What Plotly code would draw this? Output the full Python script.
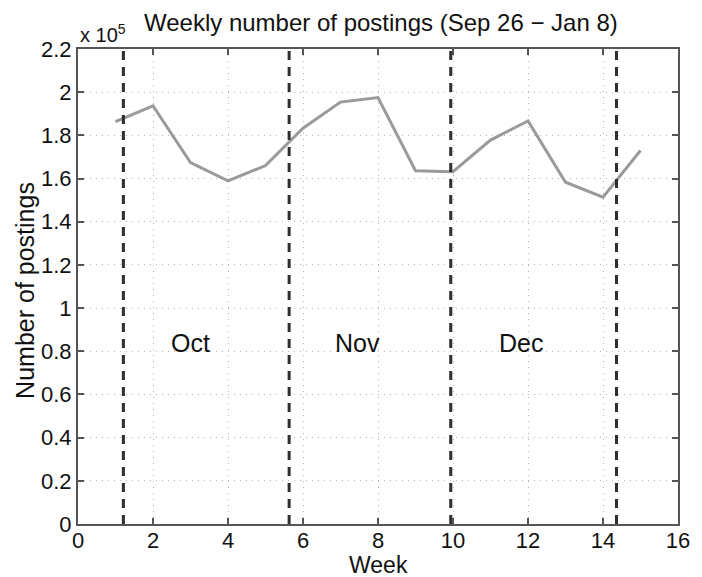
import plotly.graph_objects as go

weeks = list(range(1, 16))
postings = [186400, 193700, 167400, 158900, 166000, 183300, 195400, 197500,
            163600, 163200, 177800, 186700, 158300, 151400, 173000]
month_bounds = [1.21, 5.63, 9.94, 14.36]
month_labels = ["Oct", "Nov", "Dec"]
month_label_x = [3.0, 7.44, 11.8]
month_label_y = 84000
ytick_vals = [i * 20000 for i in range(12)]
ytick_text = ["0", "0.2", "0.4", "0.6", "0.8", "1", "1.2", "1.4", "1.6", "1.8", "2", "2.2"]
xtick_vals = list(range(0, 17, 2))

FONT = "Liberation Sans, Arial, Helvetica, sans-serif"
W, H = 702, 577
ml, mr, mt, mb = 78, 14, 49, 53

fig = go.Figure()
fig.add_trace(go.Scatter(x=weeks, y=postings, mode="lines",
                         line=dict(color="#9a9a9a", width=3), showlegend=False))
for b in month_bounds:
    fig.add_trace(go.Scatter(x=[b, b], y=[0, 220000], mode="lines",
                             line=dict(color="#2e2e2e", width=3, dash="9px,7px"),
                             showlegend=False))
for lab, lx in zip(month_labels, month_label_x):
    fig.add_annotation(x=lx, y=month_label_y, text=lab, showarrow=False,
                       font=dict(family=FONT, size=25, color="#111"),
                       xanchor="center", yanchor="middle")

axis_common = dict(showline=True, linecolor="#555", linewidth=2, mirror="ticks",
                   ticks="inside", ticklen=6, tickcolor="#555", tickwidth=1.5,
                   showgrid=True, gridcolor="#b5b5b5", griddash="1px,5px", gridwidth=1.2,
                   zeroline=False, tickfont=dict(family=FONT, size=22, color="#111"))

fig.update_xaxes(range=[0, 16], tickvals=xtick_vals, ticklabelstandoff=-4, **axis_common)
fig.update_yaxes(range=[0, 220000], tickvals=ytick_vals, ticktext=ytick_text, **axis_common)

# x label
fig.add_annotation(xref="paper", yref="paper", x=(383 - ml) / (W - ml - mr),
                   y=-(565 - (H - mb)) / (H - mt - mb), text="Week", showarrow=False,
                   font=dict(family=FONT, size=23, color="#111"),
                   xanchor="center", yanchor="middle")
# y label
fig.add_annotation(xref="paper", yref="paper", x=-(ml - 24) / (W - ml - mr),
                   y=((H - mb) - 290) / (H - mt - mb), text="Number of postings",
                   textangle=-90, showarrow=False,
                   font=dict(family=FONT, size=25, color="#111"),
                   xanchor="center", yanchor="middle")
# exponent
fig.add_annotation(xref="paper", yref="paper", x=0, y=1, yshift=1,
                   text="x 10<sup>5</sup>", showarrow=False,
                   font=dict(family=FONT, size=20, color="#111"),
                   xanchor="left", yanchor="bottom")
# title
fig.add_annotation(xref="paper", yref="paper", x=(386 - ml) / (W - ml - mr),
                   y=1 + (mt - 22) / (H - mt - mb), text="Weekly number of postings (Sep 26 \u2212 Jan 8)",
                   showarrow=False, font=dict(family=FONT, size=24, color="#111"),
                   xanchor="center", yanchor="middle")

fig.update_layout(width=W, height=H, margin=dict(l=ml, r=mr, t=mt, b=mb),
                  plot_bgcolor="white", paper_bgcolor="white", showlegend=False)
fig.write_html("out.html")
